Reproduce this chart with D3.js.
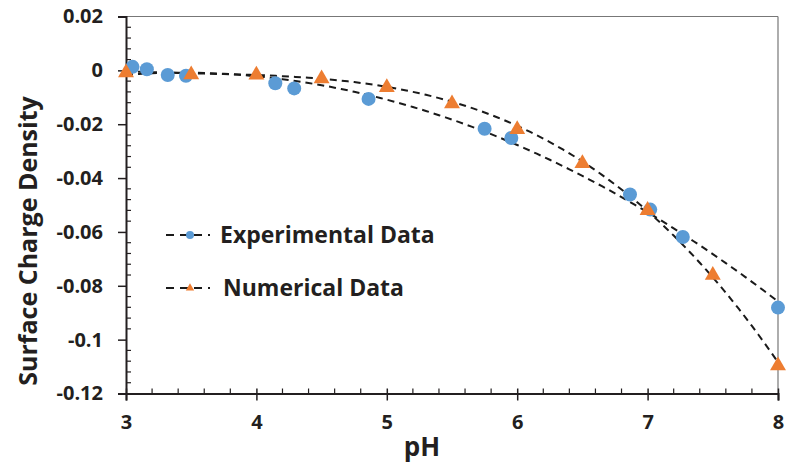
<!DOCTYPE html>
<html>
<head>
<meta charset="utf-8">
<script src="https://cdn.jsdelivr.net/npm/d3@7"></script>
<style>
  body { margin: 0; background: #fff; }
  text { font-family: "Open Sans", sans-serif; font-weight: bold; fill: #231f20; }
</style>
</head>
<body>
<div id="chart"></div>
<script>
// experimental points (pH, surface charge density)
const expPH = [3.05, 3.16, 3.32, 3.46, 4.145, 4.29, 4.86, 5.75, 5.955, 6.865, 7.02, 7.27, 8.0];
const expSCD = [0.0013, 0.0004, -0.0017, -0.002, -0.0048, -0.0067, -0.0106, -0.0217, -0.0251, -0.0461, -0.0517, -0.0619, -0.0881];

// numerical points
const numPH = [3, 3.5, 4, 4.5, 5, 5.5, 6, 6.5, 7, 7.5, 8];
const numSCD = [-0.0005, -0.0012, -0.0013, -0.0027, -0.006, -0.012, -0.0216, -0.0342, -0.0516, -0.0757, -0.1093];

const xTicks = [3, 4, 5, 6, 7, 8];
const yTicks = [0.02, 0, -0.02, -0.04, -0.06, -0.08, -0.1, -0.12];
const seriesNames = ["Experimental Data", "Numerical Data"];

const W = 786, H = 463;
const margin = { top: 16.5, right: 8, bottom: 70, left: 126 };
const width = 778 - margin.left, height = 393.5 - margin.top;

const svg = d3.select("#chart").append("svg")
    .attr("width", W).attr("height", H);

const g = svg.append("g").attr("transform", `translate(${margin.left},${margin.top})`);

const x = d3.scaleLinear().domain([3, 8]).range([0, width]);
const y = d3.scaleLinear().domain([-0.12, 0.02]).range([height, 0]);

// least squares polynomial (like the spreadsheet trendline)
function polyFit(xs, ys, order) {
    const n = order + 1;
    const A = [];
    for (let i = 0; i < n; i++) {
        A.push(new Array(n + 1).fill(0));
        for (let j = 0; j < n; j++) A[i][j] = d3.sum(xs, v => Math.pow(v, i + j));
        A[i][n] = d3.sum(xs, (v, k) => Math.pow(v, i) * ys[k]);
    }
    for (let c = 0; c < n; c++) {
        let p = c;
        for (let r = c + 1; r < n; r++) if (Math.abs(A[r][c]) > Math.abs(A[p][c])) p = r;
        [A[c], A[p]] = [A[p], A[c]];
        for (let r = 0; r < n; r++) {
            if (r === c) continue;
            const f = A[r][c] / A[c][c];
            for (let k = c; k <= n; k++) A[r][k] -= f * A[c][k];
        }
    }
    const coef = A.map((row, i) => row[n] / row[i]);
    return v => coef.reduce((s, cf, i) => s + cf * Math.pow(v, i), 0);
}

// frame: gray top/right
g.append("line").attr("x1", 0).attr("x2", width).attr("y1", 0).attr("y2", 0)
    .attr("stroke", "#777").attr("stroke-width", 1.2);
g.append("line").attr("x1", width).attr("x2", width).attr("y1", 0).attr("y2", height)
    .attr("stroke", "#777").attr("stroke-width", 1.2);

// minor ticks (inside)
const yMinor = d3.range(-0.12, 0.0201, 0.004).filter(v => Math.abs(Math.round(v / 0.02) * 0.02 - v) > 1e-6);
g.selectAll(".ymin").data(yMinor).enter().append("line")
    .attr("x1", 0).attr("x2", 5).attr("y1", d => y(d)).attr("y2", d => y(d))
    .attr("stroke", "#231f20").attr("stroke-width", 1.2);
const xMinor = d3.range(3, 8.001, 0.2).filter(v => Math.abs(Math.round(v) - v) > 1e-6);
g.selectAll(".xmin").data(xMinor).enter().append("line")
    .attr("x1", d => x(d)).attr("x2", d => x(d)).attr("y1", height - 5).attr("y2", height)
    .attr("stroke", "#231f20").attr("stroke-width", 1.2);

// axes
const fmt = d => d === 0 ? "0" : String(+d.toFixed(2));
const yAxis = g.append("g")
    .call(d3.axisLeft(y).tickValues(yTicks).tickFormat(fmt).tickSize(8).tickPadding(15));
const xAxis = g.append("g").attr("transform", `translate(0,${height})`)
    .call(d3.axisBottom(x).tickValues(xTicks).tickFormat(d3.format("d")).tickSize(7).tickPadding(14));
[yAxis, xAxis].forEach(a => {
    a.select(".domain").attr("stroke", "#231f20").attr("stroke-width", 2);
    a.selectAll(".tick line").attr("stroke", "#231f20").attr("stroke-width", 1.5);
    a.selectAll("text").attr("font-size", 20).attr("font-family", "Open Sans")
        .attr("font-weight", "bold").attr("fill", "#231f20");
});
xAxis.selectAll(".tick line").attr("y1", -5);

// trendlines
const fits = [polyFit(expPH, expSCD, 2), polyFit(numPH, numSCD, 3)];
const xs = d3.range(3, 8.0001, 0.05);
const line = d3.line().x(d => x(d[0])).y(d => y(d[1]));
fits.forEach(f => {
    g.append("path")
        .datum(xs.map(v => [v, f(v)]))
        .attr("d", line)
        .attr("fill", "none")
        .attr("stroke", "#1a1a1a")
        .attr("stroke-width", 2)
        .attr("stroke-dasharray", "7,5");
});

const blue = "#5b9bd5", orange = "#ed7d31";
const tri = d3.symbol().type(d3.symbolTriangle).size(110);

g.selectAll(".exp").data(expPH).enter().append("circle")
    .attr("cx", d => x(d)).attr("cy", (d, i) => y(expSCD[i])).attr("r", 7)
    .attr("fill", blue);

g.selectAll(".num").data(numPH).enter().append("path")
    .attr("d", tri)
    .attr("transform", (d, i) => `translate(${x(d)},${y(numSCD[i]) + 1})`)
    .attr("fill", orange);

// legend
const leg = svg.append("g");
const legY = [235, 288];
seriesNames.forEach((name, i) => {
    const ly = legY[i];
    leg.append("line").attr("x1", 166).attr("x2", 210).attr("y1", ly).attr("y2", ly)
        .attr("stroke", "#1a1a1a").attr("stroke-width", 2).attr("stroke-dasharray", "8,6");
    if (i === 0) {
        leg.append("circle").attr("cx", 190).attr("cy", ly).attr("r", 4).attr("fill", blue);
    } else {
        leg.append("path").attr("d", d3.symbol().type(d3.symbolTriangle).size(30))
            .attr("transform", `translate(190,${ly})`).attr("fill", orange);
    }
    leg.append("text").attr("x", i === 0 ? 220 : 223).attr("y", ly + 8)
        .attr("font-size", 23).text(name);
});

// axis titles
svg.append("text").attr("x", 422).attr("y", 456).attr("text-anchor", "middle")
    .attr("font-size", 26).text("pH");
svg.append("text").attr("transform", "translate(37,241) rotate(-90)")
    .attr("text-anchor", "middle").attr("font-size", 25).text("Surface Charge Density");
</script>
</body>
</html>
